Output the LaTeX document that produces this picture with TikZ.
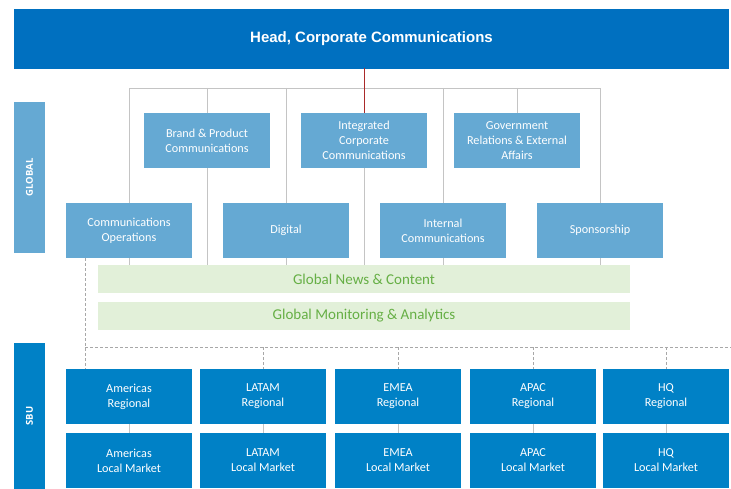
\documentclass[tikz,border=0pt]{standalone}
\usepackage{fontspec}
\setmainfont{Carlito}
\newfontfamily\headfont{Liberation Sans}
\newfontfamily\sidefont{Open Sans}
\definecolor{headblue}{HTML}{0070C0}
\definecolor{lightblue}{HTML}{65A9D3}
\definecolor{darkblue}{HTML}{0081C6}
\definecolor{linegray}{HTML}{C4C4C4}
\definecolor{dashgray}{HTML}{A8A8A8}
\definecolor{redline}{HTML}{AA2A2A}
\definecolor{greenfill}{HTML}{E2F0D9}
\definecolor{greentext}{HTML}{66AF45}
\begin{document}
\begin{tikzpicture}[x=1pt,y=-1pt,
  lbox/.style={fill=lightblue,text=white,minimum width=126pt,minimum height=55pt,inner sep=0pt,align=center,font=\fontsize{12.2}{15}\selectfont},
  dbox/.style={fill=darkblue,text=white,minimum width=126pt,minimum height=55pt,inner sep=0pt,align=center,font=\fontsize{12.2}{15}\selectfont},
  gbox/.style={fill=greenfill,text=greentext,minimum width=532pt,minimum height=28pt,inner sep=0pt,font=\fontsize{15}{17}\selectfont},
  sidebar/.style={text=white,minimum width=31pt,inner sep=0pt,font=\sidefont\bfseries\fontsize{9.5}{11}\selectfont},
  gline/.style={draw=linegray,line width=0.85pt},
  dline/.style={draw=dashgray,line width=0.8pt,dash pattern=on 3pt off 2pt},
]
\useasboundingbox (0,0) rectangle (731,489);
% coordinates
\coordinate (tl) at (129,88);
\coordinate (d0) at (85,347);
\coordinate (dend) at (731,347);
% nodes
\node[fill=headblue,text=white,minimum width=715pt,minimum height=60pt,inner sep=0pt,font=\headfont\bfseries\fontsize{15}{18}\selectfont] (head) at (371.5,39) {Head, Corporate Communications};
\node[sidebar,fill=lightblue,minimum height=151pt] (global) at (29.5,177.5) {\rotatebox{90}{GLOBAL}};
\node[sidebar,fill=darkblue,minimum height=146pt] (sbu) at (29.5,416) {\rotatebox{90}{SBU}};

% connectors (drawn first)
\draw[gline] (129,203) -- (tl) -- (600,88) -- (600,203);
\draw[redline,line width=1pt] (364,68) -- (364,113);
\draw[gline] (207,88) -- (207,113);
\draw[gline] (286,88) -- (286,203);
\draw[gline] (443,88) -- (443,203);
\draw[gline] (517,88) -- (517,113);
\draw[gline] (207,168) -- (207,266);
\draw[gline] (364,168) -- (364,266);
\draw[gline] (129,258) -- (129,266);
\draw[gline] (286,258) -- (286,266);
\draw[gline] (443,258) -- (443,266);
\draw[gline] (600,258) -- (600,266);

\node[lbox] (brand) at (207,140.5) {Brand \& Product\\Communications};
\node[lbox] (integ) at (364,140.5) {Integrated\\Corporate\\Communications};
\node[lbox] (gov) at (517,140.5) {Government\\Relations \& External\\Affairs};
\node[lbox] (ops) at (129,230.5) {Communications\\Operations};
\node[lbox] (digital) at (286,230.5) {Digital};
\node[lbox] (internal) at (443,230.5) {Internal\\Communications};
\node[lbox] (spons) at (600,230.5) {Sponsorship};

\node[gbox] (news) at (364,279) {Global News \& Content};
\node[gbox] (monit) at (364,316) {Global Monitoring \& Analytics};

\node[dbox] (amer) at (129,396.5) {Americas\\Regional};
\node[dbox] (latam) at (263,396.5) {LATAM\\Regional};
\node[dbox] (emea) at (398,396.5) {EMEA\\Regional};
\node[dbox] (apac) at (533,396.5) {APAC\\Regional};
\node[dbox] (hq) at (666,396.5) {HQ\\Regional};
\node[dbox] (amerl) at (129,460.5) {Americas\\Local Market};
\node[dbox] (latarml) at (263,460.5) {LATAM\\Local Market};
\node[dbox] (emeal) at (398,460.5) {EMEA\\Local Market};
\node[dbox] (apacl) at (533,460.5) {APAC\\Local Market};
\node[dbox] (hql) at (666,460.5) {HQ\\Local Market};

% dashed SBU connectors
\draw[dline] (d0 |- ops.south) -- (d0 |- amer.north);
\draw[dline] (d0) -- (dend);
\draw[dline] (latam.north |- d0) -- (latam.north);
\draw[dline] (emea.north |- d0) -- (emea.north);
\draw[dline] (apac.north |- d0) -- (apac.north);
\draw[dline] (hq.north |- d0) -- (hq.north);

% regional to local
\foreach \a/\b in {amer/amerl,latam/latarml,emea/emeal,apac/apacl,hq/hql}
  \draw[gline] (\a.south) -- (\b.north);
\end{tikzpicture}
\end{document}
